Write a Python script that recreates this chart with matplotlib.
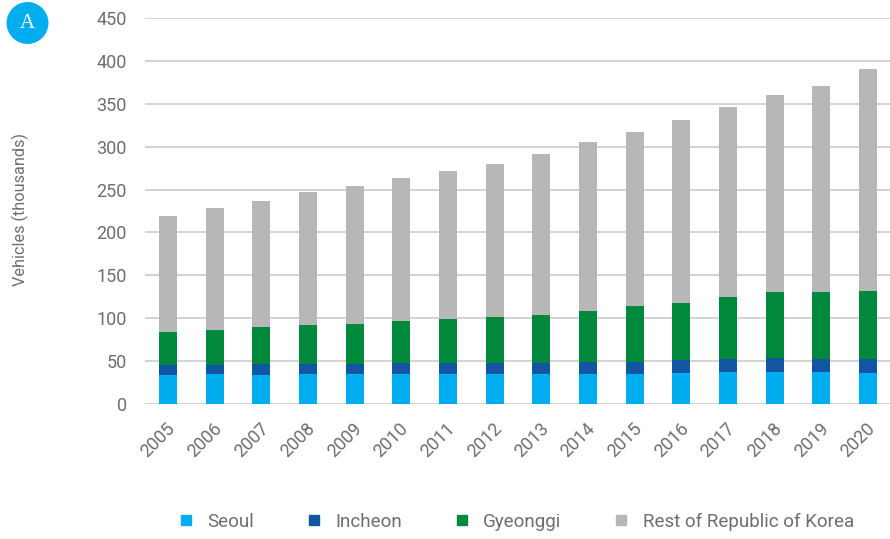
import numpy as np
import matplotlib
matplotlib.use("Agg")
import matplotlib.pyplot as plt
from matplotlib.lines import Line2D
import matplotlib.transforms as mtransforms

# data (thousands of vehicles)
years = ['2005', '2006', '2007', '2008', '2009', '2010', '2011', '2012',
         '2013', '2014', '2015', '2016', '2017', '2018', '2019', '2020']
seoul = [34, 35, 34, 35, 35, 35, 35, 35, 35, 35, 35, 36, 37, 37, 37, 36]
incheon = [11.5, 10.5, 13, 12, 12, 13, 13, 13, 13, 14, 14, 15, 15, 17, 15, 16]
gyeonggi = [38.5, 40.5, 42.5, 45, 46.5, 49, 51, 53, 56, 59, 65, 67, 73, 76, 79, 80]
total = [219, 229, 237, 247, 254, 263, 272, 280, 291, 305, 317, 331, 346, 360, 371, 390]

names = ['Seoul', 'Incheon', 'Gyeonggi', 'Rest of Republic of Korea']
colors = ['#00aeef', '#1155a3', '#00893d', '#b7b7b7']

seoul = np.array(seoul)
incheon = np.array(incheon)
gyeonggi = np.array(gyeonggi)
rest = np.array(total) - seoul - incheon - gyeonggi

plt.rcParams['font.family'] = ['Roboto', 'DejaVu Sans']
txt = '#6e6e6e'

fig = plt.figure(figsize=(8.9, 5.39), dpi=100)
ax = fig.add_axes([145/890, 1 - 404/539, 1 - 145/890, (404 - 18)/539])

x = np.arange(len(years))
w = 0.39
bottom = np.zeros(len(years))
for vals, c in zip([seoul, incheon, gyeonggi, rest], colors):
    ax.bar(x, vals, w, bottom=bottom, color=c, zorder=3)
    bottom = bottom + vals

ax.set_ylim(0, 450)
ax.set_xlim(-0.493, 15.47)
ax.set_yticks(range(0, 451, 50))
ax.grid(axis='y', color='#cccccc', linewidth=1.2, zorder=0)
for s in ax.spines.values():
    s.set_visible(False)
ax.tick_params(axis='both', length=0, colors=txt, labelsize=13)
ax.tick_params(axis='y', pad=13)
ax.set_xticks(x)
ax.set_xticklabels(years, rotation=45, ha='right', rotation_mode='anchor')
off = mtransforms.ScaledTranslation(-2/100, -11/100, fig.dpi_scale_trans)
for lab in ax.get_xticklabels():
    lab.set_transform(lab.get_transform() + off)

fig.text(20/890, 1 - 209/539, 'Vehicles (thousands)', rotation=90,
         ha='center', va='center', color=txt, fontsize=11.7)

# legend
handles = [Line2D([], [], marker='s', linestyle='none', markersize=6.5,
                  markerfacecolor=c, markeredgecolor=c) for c in colors]
fig.legend(handles, names, loc='center', bbox_to_anchor=(0.581, 1 - 522/539),
           ncol=4, frameon=False, fontsize=13.5, labelcolor=txt,
           handlelength=0.6, columnspacing=2.9, handletextpad=0.83)

# panel badge
fig.text(27.5/890, 1 - 23/539, 'A', ha='center', va='center', color='white',
         fontsize=15, family='Liberation Serif',
         bbox=dict(boxstyle='circle,pad=0.55', fc='#00aeef', ec='none'))

fig.savefig('out.png', dpi=100)
